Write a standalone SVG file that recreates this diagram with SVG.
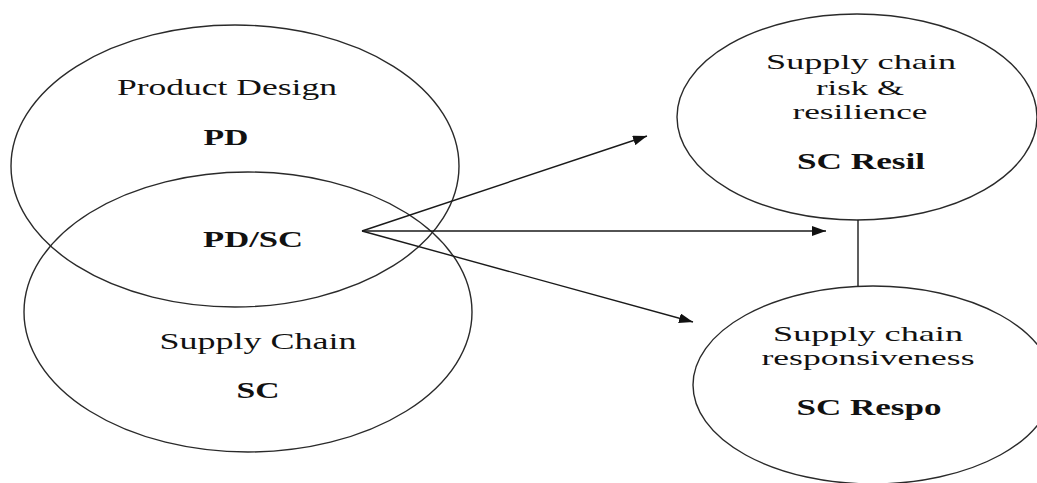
<svg xmlns="http://www.w3.org/2000/svg" width="1037" height="483" viewBox="0 0 1037 483">
<style>
.n{fill:none;stroke:#2a2a2a;stroke-width:1.4}
.t{font-family:"Liberation Serif","Times New Roman",serif;font-size:24px;fill:#111;text-anchor:middle}
.s{font-size:22px}
.b{font-weight:bold}
.c{stroke:#1a1a1a;stroke-width:1.4;fill:none}
</style>
<defs>
<marker id="ah" viewBox="0 0 14 10" refX="14" refY="5" markerWidth="14" markerHeight="10" markerUnits="userSpaceOnUse" orient="auto">
<path d="M0,0 L14,5 L0,10 Z" fill="#111"/>
</marker>
</defs>
<rect width="1037" height="483" fill="#fff"/>
<g id="pd">
<ellipse class="n" cx="235" cy="166" rx="224" ry="141"/>
<text class="t" x="227" y="95" textLength="220" lengthAdjust="spacingAndGlyphs">Product Design</text>
<text class="t b" x="226" y="145" textLength="45" lengthAdjust="spacingAndGlyphs">PD</text>
</g>
<g id="sc">
<ellipse class="n" cx="248" cy="312" rx="224" ry="140"/>
<text class="t" x="258" y="349" textLength="197" lengthAdjust="spacingAndGlyphs">Supply Chain</text>
<text class="t b" x="258" y="398" textLength="43" lengthAdjust="spacingAndGlyphs">SC</text>
</g>
<g id="pdsc">
<text class="t b" x="253" y="247" textLength="100" lengthAdjust="spacingAndGlyphs">PD/SC</text>
</g>
<g id="resil">
<ellipse class="n" cx="857" cy="117" rx="180" ry="103"/>
<text class="t s" x="861" y="69" textLength="190" lengthAdjust="spacingAndGlyphs">Supply chain</text>
<text class="t s" x="860" y="95" textLength="88" lengthAdjust="spacingAndGlyphs">risk &amp;</text>
<text class="t s" x="860" y="119" textLength="135" lengthAdjust="spacingAndGlyphs">resilience</text>
<text class="t b" x="861" y="169" textLength="128" lengthAdjust="spacingAndGlyphs">SC Resil</text>
</g>
<g id="respo">
<ellipse class="n" cx="873" cy="385" rx="180" ry="99"/>
<text class="t s" x="868" y="341" textLength="190" lengthAdjust="spacingAndGlyphs">Supply chain</text>
<text class="t s" x="868" y="365" textLength="213" lengthAdjust="spacingAndGlyphs">responsiveness</text>
<text class="t b" x="869" y="415" textLength="145" lengthAdjust="spacingAndGlyphs">SC Respo</text>
</g>
<g id="connectors">
<line class="c" x1="362" y1="231" x2="647" y2="136" marker-end="url(#ah)"/>
<line class="c" x1="362" y1="231" x2="826" y2="231" marker-end="url(#ah)"/>
<line class="c" x1="362" y1="231" x2="693" y2="322" marker-end="url(#ah)"/>
<line class="c" x1="858" y1="220" x2="858" y2="286"/>
</g>
</svg>
